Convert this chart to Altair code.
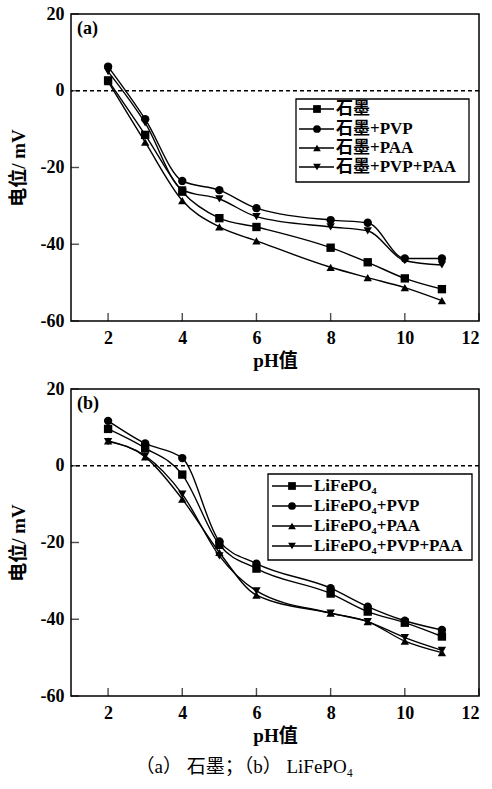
import altair as alt
import pandas as pd

ph = [2, 3, 4, 5, 6, 8, 9, 10, 11]

a_series = ["石墨", "石墨+PVP", "石墨+PAA", "石墨+PVP+PAA"]
a_graphite = [2.7, -11.5, -26.3, -33.2, -35.5, -40.9, -44.7, -48.9, -51.7]
a_pvp = [6.3, -7.4, -23.5, -25.9, -30.6, -33.7, -34.4, -43.7, -43.7]
a_paa = [2.4, -13.4, -28.6, -35.5, -39.1, -46.0, -48.7, -51.3, -54.7]
a_pvp_paa = [5.0, -8.4, -25.8, -28.2, -32.8, -35.5, -36.5, -44.3, -45.4]

b_series = ["LiFePO₄", "LiFePO₄+PVP", "LiFePO₄+PAA", "LiFePO₄+PVP+PAA"]
b_lfp = [9.6, 4.6, -2.3, -20.6, -26.8, -33.3, -38.0, -40.9, -44.5]
b_pvp = [11.7, 5.8, 2.0, -19.7, -25.5, -31.9, -36.7, -40.4, -42.8]
b_paa = [6.5, 2.3, -8.7, -22.6, -33.7, -38.4, -40.6, -45.7, -48.7]
b_pvp_paa = [6.3, 2.6, -7.4, -23.5, -32.6, -38.4, -40.6, -44.8, -48.1]

shapes = ["square", "circle", "triangle-up", "triangle-down"]
x_ticks = [2, 4, 6, 8, 10, 12]
y_ticks = [-60, -40, -20, 0, 20]

SERIF = "Liberation Serif, Noto Sans CJK SC"
W, H = 408, 307
LEG_FS = 17


def panel(series, values, label, leg):
    rows = []
    for s, vals in zip(series, values):
        for p, v in zip(ph, vals):
            rows.append({"pH": p, "v": v, "s": s})
    df = pd.DataFrame(rows)
    x = alt.X("pH:Q", scale=alt.Scale(domain=[1, 12], nice=False),
              axis=alt.Axis(values=x_ticks, title="pH值", ticks=False, grid=False, domain=False,
                            labelPadding=8, titlePadding=4, labelExpr="'' + datum.value"))
    y = alt.Y("v:Q", scale=alt.Scale(domain=[-60, 20], nice=False),
              axis=alt.Axis(values=y_ticks, title="电位/ mV", ticks=False, grid=False, domain=False,
                            labelPadding=7, titlePadding=12, labelExpr="'' + datum.value"))
    shape_scale = alt.Scale(domain=series, range=shapes)

    zero = alt.Chart(pd.DataFrame({"v": [0]})).mark_rule(
        strokeDash=[4, 3], color="black", strokeWidth=1.3).encode(y="v:Q")
    lines = alt.Chart(df).mark_line(color="black", strokeWidth=1.4, interpolate="monotone").encode(
        x=x, y=y, detail="s:N")
    pts = alt.Chart(df).mark_point(filled=True, color="black", size=70, opacity=1).encode(
        x="pH:Q", y="v:Q", shape=alt.Shape("s:N", scale=shape_scale, legend=None))
    yt = alt.Chart(pd.DataFrame({"v": y_ticks})).mark_tick(
        color="black", thickness=1.4, size=8).encode(y="v:Q", x=alt.value(4))
    xt = alt.Chart(pd.DataFrame({"pH": x_ticks})).mark_tick(
        color="black", thickness=1.4, size=8).encode(x="pH:Q", y=alt.value(H - 4))
    lab = alt.Chart(pd.DataFrame({"t": [label]})).mark_text(
        font=SERIF, fontWeight="bold", fontSize=18, align="left", baseline="middle", color="black").encode(
        text="t:N", x=alt.value(6), y=alt.value(15))

    bx0, bx1, by0, by1, rows_y, lx0, lx1, mx, tx = leg
    layers = [zero, lines, pts, yt, xt, lab]
    box = alt.Chart(pd.DataFrame({"a": [0]})).mark_rect(
        fill="white", stroke="black", strokeWidth=1.3).encode(
        x=alt.value(bx0), x2=alt.value(bx1), y=alt.value(by0), y2=alt.value(by1))
    layers.append(box)
    for s, shp, ry in zip(series, shapes, rows_y):
        d = pd.DataFrame({"s": [s]})
        layers.append(alt.Chart(d).mark_rule(color="black", strokeWidth=1.4).encode(
            x=alt.value(lx0), x2=alt.value(lx1), y=alt.value(ry)))
        layers.append(alt.Chart(d).mark_point(shape=shp, filled=True, color="black", size=60, opacity=1).encode(
            x=alt.value(mx), y=alt.value(ry)))
        layers.append(alt.Chart(d).mark_text(
            font=SERIF, fontWeight="bold", fontSize=LEG_FS, align="left", baseline="middle",
            color="black").encode(text="s:N", x=alt.value(tx), y=alt.value(ry)))
    return alt.layer(*layers).properties(width=W, height=H)


top = panel(a_series, [a_graphite, a_pvp, a_paa, a_pvp_paa], "(a)",
            (225, 398, 85, 168, [95, 115, 134, 153], 228, 263, 246, 265))
bottom = panel(b_series, [b_lfp, b_pvp, b_paa, b_pvp_paa], "(b)",
               (197, 401, 85, 171, [97, 117, 137, 157], 201, 241, 221, 243))

chart = alt.vconcat(top, bottom, spacing=8, background="white").properties(
    title=alt.TitleParams("（a） 石墨；（b） LiFePO₄", orient="bottom", anchor="middle", font=SERIF,
                          fontSize=19, fontWeight="normal", color="black", offset=12),
    padding={"left": 8, "top": 4, "right": 4, "bottom": 5},
).configure_view(stroke="black", strokeWidth=1.5).configure_axis(
    labelFont=SERIF, labelFontWeight="bold", labelFontSize=18, labelColor="black",
    titleFont=SERIF, titleFontWeight="bold", titleFontSize=19, titleColor="black",
)

chart.save("out.html", embed_options={"renderer": "svg", "actions": False})
